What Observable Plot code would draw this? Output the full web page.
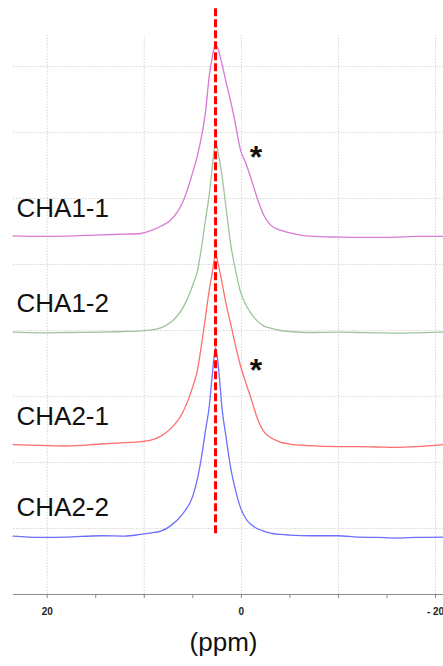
<!DOCTYPE html>
<html>
<head>
<meta charset="utf-8">
<script src="https://cdn.jsdelivr.net/npm/d3@7"></script>
<script src="https://cdn.jsdelivr.net/npm/@observablehq/plot@0.6"></script>
<style>
  html, body { margin: 0; padding: 0; background: #fff; }
  #chart svg { display: block; }
</style>
</head>
<body>
<div id="chart"></div>
<script>
// Chemical shift grid (ppm), shared by all spectra
const ppm = [23.5, 20.7, 18, 14.5, 12, 10.4, 9.4, 8.3, 7.3, 6.0, 5.0, 4.5, 4.2, 3.7, 3.3, 3.0, 2.66, 2.3, 2.0, 1.6, 1.1, 0.6, 0.1, -0.5, -1.0, -1.6, -2.3, -3.0, -4.0, -5.0, -7, -10, -12, -14, -16, -18, -20.8];

// Series names and stacking offsets
const series = ["CHA1-1", "CHA1-2", "CHA2-1", "CHA2-2"];
const offsets = [5.42, 3.97, 2.27, 0.88];

// Relative intensities
const cha11 = [0.015, 0.005, 0.01, 0.03, 0.04, 0.05, 0.09, 0.16, 0.25, 0.54, 0.98, 1.25, 1.45, 1.88, 2.45, 2.72, 2.92, 2.8, 2.62, 2.36, 2.05, 1.7, 1.32, 1.1, 0.88, 0.6, 0.33, 0.18, 0.1, 0.06, 0.01, -0.005, -0.01, -0.01, -0.005, 0.005, 0.005];
const cha12 = [0.005, -0.005, 0.0, 0.005, 0.015, 0.025, 0.035, 0.07, 0.15, 0.38, 0.72, 0.95, 1.2, 1.7, 2.1, 2.5, 2.88, 2.65, 2.38, 1.92, 1.34, 0.94, 0.62, 0.41, 0.29, 0.18, 0.1, 0.065, 0.03, 0.015, 0.0, 0.005, 0.0, -0.005, -0.01, -0.005, 0.005];
const cha21 = [0.0, -0.01, -0.02, 0.01, 0.03, 0.045, 0.065, 0.13, 0.24, 0.5, 0.88, 1.15, 1.42, 1.93, 2.35, 2.6, 2.88, 2.68, 2.46, 2.15, 1.83, 1.5, 1.2, 0.92, 0.7, 0.42, 0.2, 0.11, 0.04, 0.01, -0.015, -0.03, -0.03, -0.035, -0.04, -0.03, 0.0];
const cha22 = [0.005, -0.015, -0.01, 0.01, 0.005, 0.03, 0.05, 0.08, 0.16, 0.35, 0.61, 0.89, 1.12, 1.6, 1.98, 2.44, 2.86, 2.47, 1.95, 1.53, 1.04, 0.7, 0.44, 0.26, 0.18, 0.12, 0.08, 0.05, 0.03, 0.02, 0.01, 0.01, -0.01, -0.015, -0.025, -0.015, -0.01];

const colors = ["#d779d7", "#9ec49e", "#ff6e6e", "#6e6eff"];

// Reference line and annotation marks
const refPpm = [2.66];
const starSeries = ["CHA1-1", "CHA2-1"];
const starPpm = [-1.5, -1.5];
const starLevel = [1.31, 1.23];

// Axis ticks and labels
const tickValues = [20, 15, 10, 5, 0, -5, -10, -15, -20];
const labelValues = [20, 0, -20];
const labelTexts = ["20", "0", "- 20"];
const gridX = [20, 10, 0, -10, -20];
const gridY = [1, 2, 3, 4, 5, 6, 7, 8];

// Build table
const values = [cha11, cha12, cha21, cha22];
const rows = [];
series.forEach((s, i) => {
  ppm.forEach((p, j) => rows.push({series: s, ppm: p, y: offsets[i] + values[i][j]}));
});
const labels = series.map((s, i) => ({series: s, y: offsets[i] + 0.43}));
const stars = starSeries.map((s, i) => ({ppm: starPpm[i], y: offsets[series.indexOf(s)] + starLevel[i]}));
const labelMap = new Map(labelValues.map((v, i) => [v, labelTexts[i]]));

const font = "'Liberation Sans', Arial, Helvetica, sans-serif";

const chart = Plot.plot({
  width: 443,
  height: 666,
  marginTop: 0,
  marginBottom: 72,
  marginLeft: 13,
  marginRight: 0,
  style: {fontFamily: font, background: "#fff"},
  x: {domain: [23.47, -20.82]},
  y: {domain: [0, 9], axis: null},
  color: {domain: series, range: colors},
  marks: [
    Plot.ruleY(gridY, {stroke: "#d6d6d6", strokeDasharray: "1.5,1.5"}),
    Plot.ruleX(gridX, {y1: 0, y2: 8.47, stroke: "#d6d6d6", strokeDasharray: "1.5,1.5"}),
    Plot.line(rows, {x: "ppm", y: "y", z: "series", stroke: "series", curve: "monotone-x", strokeWidth: 1.3}),
    Plot.ruleX(refPpm, {y1: 0.92, y2: 8.88, stroke: "#ff0000", strokeWidth: 3, strokeDasharray: "8,3"}),
    Plot.text(labels, {y: "y", text: "series", frameAnchor: "left", textAnchor: "start", dx: 3, fontSize: 26, fill: "#111"}),
    Plot.text(stars, {x: "ppm", y: "y", text: () => "*", fontSize: 32, fontWeight: "bold", fill: "#111", dy: 7}),
    Plot.ruleY([0], {stroke: "#8a8a8a", strokeWidth: 1}),
    Plot.axisX(tickValues, {tickSize: 4, tickPadding: 9, tickFormat: d => labelMap.get(d) ?? "", label: null, stroke: "#8a8a8a", fill: "#222", fontWeight: "bold", fontSize: 10}),
    Plot.text(["(ppm)"], {frameAnchor: "bottom", dx: -5, dy: 56, fontSize: 26, fill: "#111"})
  ]
});
document.getElementById("chart").appendChild(chart);
</script>
</body>
</html>
